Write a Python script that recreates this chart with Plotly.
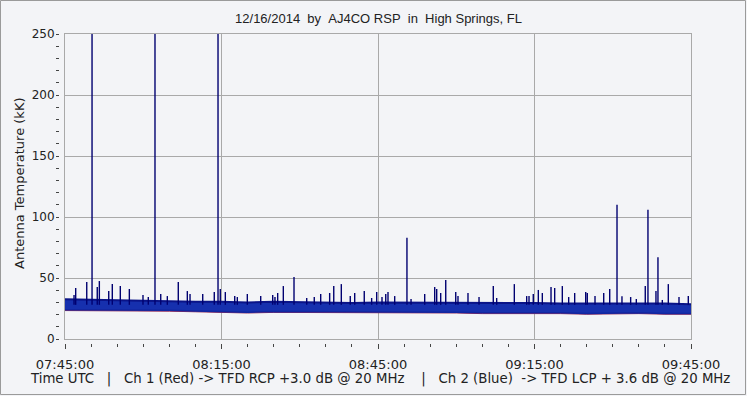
import plotly.graph_objects as go

DAY = "2014-12-16 "

# Noise band envelope (every 5 minutes, 07:45 .. 09:45), values in kK
band_times = ["07:45", "07:50", "07:55", "08:00", "08:05", "08:10", "08:15", "08:20", "08:25",
              "08:30", "08:35", "08:40", "08:45", "08:50", "08:55", "09:00", "09:05", "09:10",
              "09:15", "09:20", "09:25", "09:30", "09:35", "09:40", "09:45"]
blue_hi = [32.5, 32.0, 31.5, 31.0, 31.0, 30.5, 30.5, 30.0, 30.5, 30.0, 30.0, 29.5, 30.0,
           30.0, 29.5, 29.5, 29.5, 29.5, 29.5, 29.0, 29.0, 29.5, 29.0, 29.0, 28.5]
blue_lo = [24.0, 24.0, 23.5, 23.5, 23.5, 23.0, 22.5, 22.0, 22.5, 22.5, 22.5, 22.0, 22.0,
           22.5, 22.0, 22.0, 21.5, 21.5, 22.0, 21.5, 21.0, 21.5, 21.5, 21.0, 21.0]
red_hi = [29.5, 29.0, 28.5, 28.0, 28.0, 27.5, 27.5, 27.0, 27.5, 27.0, 27.0, 26.5, 27.0,
          27.0, 26.5, 26.5, 26.5, 26.5, 26.5, 26.0, 26.0, 26.5, 26.0, 26.0, 25.5]
red_lo = [23.3, 23.3, 22.8, 22.8, 22.8, 22.3, 21.8, 21.3, 21.8, 21.8, 21.8, 21.3, 21.3,
          21.8, 21.3, 21.3, 20.8, 20.8, 21.3, 20.8, 20.3, 20.8, 20.8, 20.3, 20.3]

# Impulsive spikes on Ch 2 (Blue): time and peak value (kK)
spike_times = ["07:46:44", "07:47:03", "07:49:10", "07:50:11", "07:51:11", "07:51:35", "07:53:23",
               "07:54:04", "07:55:36", "07:57:20", "07:59:57", "08:00:58", "08:02:15", "08:03:21",
               "08:04:37", "08:06:43", "08:08:27", "08:08:58", "08:11:24", "08:13:37", "08:14:20",
               "08:14:46", "08:15:44", "08:17:32", "08:18:02", "08:19:57", "08:22:31", "08:24:49",
               "08:25:15", "08:25:46", "08:26:51", "08:28:54", "08:31:20", "08:32:47", "08:34:01",
               "08:35:44", "08:36:31", "08:37:58", "08:39:41", "08:40:32", "08:42:22", "08:43:47",
               "08:44:45", "08:45:46", "08:46:29", "08:46:55", "08:48:12", "08:50:33", "08:51:20",
               "08:53:57", "08:55:52", "08:56:15", "08:57:01", "08:57:59", "08:59:54", "09:00:20",
               "09:02:15", "09:04:22", "09:07:06", "09:07:45", "09:11:08", "09:13:30", "09:13:57",
               "09:14:46", "09:15:44", "09:16:30", "09:18:10", "09:18:52", "09:20:20", "09:21:33",
               "09:22:42", "09:24:49", "09:25:07", "09:26:36", "09:28:16", "09:29:25", "09:30:49",
               "09:31:46", "09:33:26", "09:34:31", "09:36:14", "09:36:45", "09:38:17", "09:38:40",
               "09:39:30", "09:40:39", "09:42:42", "09:44:29"]
spike_vals = [36.0, 41.8, 46.7, 280.0, 42.6, 47.5, 39.3,
              45.0, 43.4, 41.0, 36.0, 34.4, 280.0, 36.9,
              35.2, 46.7, 39.3, 36.9, 36.9, 38.5, 280.0,
              41.0, 38.5, 35.2, 34.4, 36.9, 35.2, 36.0,
              34.4, 37.7, 43.4, 50.8, 33.6, 34.4, 36.9,
              37.7, 43.4, 45.0, 35.2, 37.7, 39.3, 33.6,
              38.5, 34.4, 36.9, 38.5, 35.2, 83.0, 32.8,
              36.9, 42.6, 41.0, 37.7, 48.4, 38.5, 35.2,
              37.7, 34.4, 43.4, 33.6, 45.0, 35.2, 35.2,
              36.9, 40.2, 37.7, 42.6, 41.8, 43.4, 34.4,
              37.7, 38.5, 37.7, 35.2, 37.7, 41.0, 110.0,
              35.0, 34.4, 32.8, 43.4, 106.0, 39.3, 67.0,
              32.0, 45.0, 34.4, 35.2]
spike_base = 28.0

y_ticks = [0, 50, 100, 150, 200, 250]

BG = "#F3F4F7"
GRID = "#A9A9A9"
TXT = "#222222"

bt = [DAY + t + ":00" for t in band_times]

fig = go.Figure()

# Ch 1 (Red) band
fig.add_trace(go.Scatter(x=bt, y=red_lo, mode="lines", line=dict(color="#8E2A5A", width=1),
                         showlegend=False, hoverinfo="skip"))
fig.add_trace(go.Scatter(x=bt, y=red_hi, mode="lines", line=dict(color="#8E2A5A", width=1),
                         fill="tonexty", fillcolor="#8E2A5A", showlegend=False, hoverinfo="skip"))
# Ch 2 (Blue) band
fig.add_trace(go.Scatter(x=bt, y=blue_lo, mode="lines", line=dict(color="#1226A0", width=1.5),
                         showlegend=False, hoverinfo="skip"))
fig.add_trace(go.Scatter(x=bt, y=blue_hi, mode="lines", line=dict(color="#0A1488", width=2),
                         fill="tonexty", fillcolor="#1630AE", showlegend=False, hoverinfo="skip"))

# Spikes
sx, sy = [], []
for t, v in zip(spike_times, spike_vals):
    sx += [DAY + t, DAY + t, None]
    sy += [spike_base, v, None]
fig.add_trace(go.Scatter(x=sx, y=sy, mode="lines", line=dict(color="#000070", width=1.4),
                         showlegend=False, hoverinfo="skip", cliponaxis=True))

L, R, T, B = 59, 56, 34, 53
W, H = 747, 396
pw = W - L - R
ph = H - T - B
xr = [DAY + "07:45:00", DAY + "09:45:00"]

fig.update_layout(
    width=W, height=H,
    margin=dict(l=L, r=R, t=T, b=B, pad=0),
    paper_bgcolor=BG, plot_bgcolor=BG,
    font=dict(family="DejaVu Sans", size=12, color=TXT),
    title=dict(text="12/16/2014\u00a0\u00a0by\u00a0\u00a0AJ4CO RSP\u00a0\u00a0in\u00a0\u00a0High Springs, FL",
               font=dict(family="Liberation Sans", size=13, color=TXT),
               xref="paper", x=(378.5 - L) / pw, xanchor="center",
               yref="container", y=1 - 18 / H, yanchor="middle"),
    xaxis=dict(type="date", range=xr, domain=[6 / pw, 1], anchor="y",
               showgrid=True, gridcolor=GRID, gridwidth=1,
               tick0=DAY + "07:45:00", dtick=1800000,
               showline=True, linecolor=GRID, mirror=True,
               showticklabels=False, ticks="", zeroline=False),
    yaxis=dict(range=[0, 250], domain=[4 / ph, 1], anchor="x",
               showgrid=True, gridcolor=GRID, gridwidth=1,
               tickvals=y_ticks, showline=True, linecolor=GRID, mirror=True,
               showticklabels=False, ticks="", zeroline=False),
    xaxis2=dict(type="date", range=xr, overlaying="x", anchor="free", position=0,
                showgrid=False, showline=False, zeroline=False,
                tick0=DAY + "07:45:00", dtick=1800000, tickformat="%H:%M:%S",
                ticks="outside", ticklen=5, tickcolor="#444444", tickwidth=1,
                ticklabelstandoff=4,
                tickfont=dict(family="DejaVu Sans", size=13, color=TXT),
                minor=dict(dtick=300000, tick0=DAY + "07:45:00", ticks="outside",
                           ticklen=3, tickcolor="#444444", showgrid=False)),
    yaxis2=dict(range=[0, 250], overlaying="y", anchor="free", position=0, side="left",
                showgrid=False, showline=False, zeroline=False,
                tickvals=y_ticks, ticks="outside", ticklen=2, tickcolor="#444444",
                tickfont=dict(family="DejaVu Sans", size=12, color=TXT),
                minor=dict(dtick=10, ticks="outside", ticklen=3, tickcolor="#444444",
                           showgrid=False)),
    annotations=[
        dict(text="Antenna Temperature (kK)", textangle=-90, xref="paper", yref="paper",
             x=(19 - L) / pw, y=(343 - 184) / ph, xanchor="center", yanchor="middle",
             showarrow=False, font=dict(family="DejaVu Sans", size=13, color=TXT)),
        dict(text="Time UTC\u00a0\u00a0\u00a0|\u00a0\u00a0\u00a0Ch 1 (Red) -> TFD RCP +3.0 dB @ 20 MHz"
                  "\u00a0\u00a0\u00a0\u00a0|\u00a0\u00a0\u00a0Ch 2 (Blue)\u00a0\u00a0-> TFD LCP + 3.6 dB @ 20 MHz",
             xref="paper", yref="paper", x=(379.5 - L) / pw, y=(343 - 379) / ph,
             xanchor="center", yanchor="middle", showarrow=False,
             font=dict(family="DejaVu Sans", size=13.3, color=TXT)),
    ],
    shapes=[dict(type="rect", xref="paper", yref="paper",
                 x0=(0.5 - L) / pw, x1=(745.5 - L) / pw,
                 y0=(343 - 394.5) / ph, y1=(343 - 0.5) / ph,
                 line=dict(color="#9A9A9A", width=1), fillcolor="rgba(0,0,0,0)", layer="below")],
)

fig.add_trace(go.Scatter(x=[None], y=[None], xaxis="x2", yaxis="y2", showlegend=False,
                         hoverinfo="skip"))

fig.write_html("out.html", config={"displayModeBar": False})
